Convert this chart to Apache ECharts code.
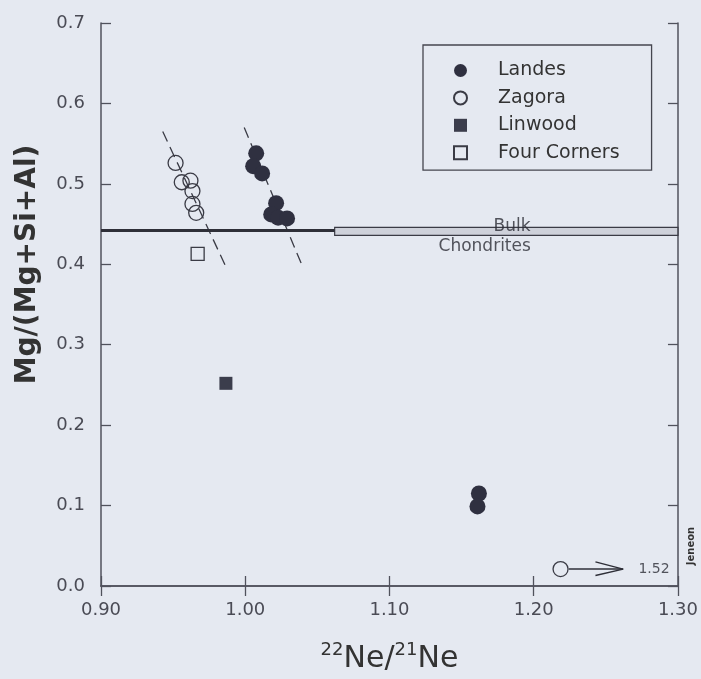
<!DOCTYPE html>
<html><head><meta charset="utf-8">
<script src="https://cdn.jsdelivr.net/npm/echarts@6/dist/echarts.min.js"></script>
<style>html,body{margin:0;padding:0;background:#e5e9f1}#c{width:701px;height:679px}</style>
</head><body><div id="c"></div>
<script>
// ---- data ----
const xRange = [0.9, 1.3];
const yRange = [0, 0.7];
const tickStepX = 0.1;
const tickStepY = 0.1;
const legendNames = ['Landes', 'Zagora', 'Linwood', 'Four Corners'];
const landes = [[1.0076,0.538],[1.0055,0.522],[1.0117,0.513],[1.0214,0.476],[1.018,0.462],[1.0228,0.458],[1.029,0.457],[1.162,0.115],[1.161,0.099]];
const zagora = [[0.9517,0.526],[0.956,0.502],[0.962,0.504],[0.9634,0.491],[0.9634,0.475],[0.966,0.464],[1.2186,0.021]];
const linwood = [[0.9866,0.252]];
const fourCorners = [[0.967,0.413]];
const zagoraTrend = [[0.9428,0.565],[0.9876,0.393]];
const landesTrend = [[0.9993,0.570],[1.0393,0.399]];
const bulkLine = [[0.9,0.442],[1.062,0.442]];
const bulkBand = [[1.062,0.446],[1.3,0.436]];
const arrowShaft = [[1.2243,0.021],[1.262,0.021]];
const arrowHead = [[1.2428,0.030],[1.262,0.021],[1.2428,0.013]];
const annotations = [[1.185,0.4475,'Bulk'],[1.166,0.4225,'Chondrites'],[1.2834,0.021,'1.52']];

const FONT = 'DejaVu Sans';
const INK = '#2f3040';
const AX = '#50525c';

const chart = echarts.init(document.getElementById('c'), null, {renderer:'canvas'});
const axisCommon = {
  type:'value', splitLine:{show:false},
  axisLine:{show:true, lineStyle:{color:AX, width:1.5}},
  axisTick:{show:true, inside:true, length:10, lineStyle:{color:AX, width:1.3}}
};
const option = {
  backgroundColor:'#e5e9f1',
  animation:false,
  grid:{left:101, right:17, top:23, bottom:91},
  xAxis:[
    Object.assign({}, axisCommon, {min:xRange[0], max:xRange[1], interval:tickStepX, position:'bottom',
      axisLabel:{formatter:v=>v.toFixed(2), fontSize:18, color:'#4a4b55', margin:15, fontFamily:FONT},
      name:'{s|22}{n|Ne/}{s|21}{n|Ne}', nameLocation:'middle', nameGap:55,
      nameTextStyle:{rich:{
        s:{fontSize:18, fontFamily:FONT, color:'#333', verticalAlign:'top', lineHeight:36, padding:[0,0,14,0]},
        n:{fontSize:30, fontFamily:FONT, color:'#333', lineHeight:36}
      }}}),
    Object.assign({}, axisCommon, {min:xRange[0], max:xRange[1], interval:tickStepX, position:'top', axisLabel:{show:false}})
  ],
  yAxis:[
    Object.assign({}, axisCommon, {min:yRange[0], max:yRange[1], interval:tickStepY, position:'left',
      axisLabel:{formatter:v=>v.toFixed(1), fontSize:18, color:'#4a4b55', margin:16, fontFamily:FONT},
      name:'Mg/(Mg+Si+Al)', nameLocation:'middle', nameGap:59,
      nameTextStyle:{fontSize:28, fontWeight:'bold', color:'#333', fontFamily:FONT, padding:[0,0,0,80]}}),
    Object.assign({}, axisCommon, {min:yRange[0], max:yRange[1], interval:tickStepY, position:'right', axisLabel:{show:false}})
  ],
  legend:{
    orient:'vertical', left:423, top:45, selectedMode:false,
    data:legendNames,
    itemWidth:13, itemHeight:13, itemGap:8.4,
    padding:[16,32,8,30],
    borderColor:'#45464f', borderWidth:1.3,
    textStyle:{fontSize:19, lineHeight:18, color:'#333', fontFamily:FONT, padding:[0,0,0,26]}
  },
  series:[
    {name:'Landes', type:'scatter', data:landes, symbol:'circle', symbolSize:16, itemStyle:{color:INK, opacity:1}, z:5},
    {name:'Zagora', type:'scatter', data:zagora, symbol:'circle', symbolSize:15, itemStyle:{color:'rgba(0,0,0,0)', borderColor:'#3a3b45', borderWidth:1.3, opacity:1}, z:5},
    {name:'Linwood', type:'scatter', data:linwood, symbol:'rect', symbolSize:13, itemStyle:{color:'#3b3d4c', opacity:1}, z:5},
    {name:'Four Corners', type:'scatter', data:fourCorners, symbol:'rect', symbolSize:13, itemStyle:{color:'rgba(0,0,0,0)', borderColor:'#3a3b45', borderWidth:1.3, opacity:1}, z:5},
    {name:'zTrend', type:'line', data:zagoraTrend, showSymbol:false, symbol:'none', lineStyle:{color:'#3a3b45', width:1.3, type:[11,6]}, z:3},
    {name:'lTrend', type:'line', data:landesTrend, showSymbol:false, symbol:'none', lineStyle:{color:'#3a3b45', width:1.3, type:[11,6]}, z:3},
    {name:'bulk', type:'line', data:bulkLine, showSymbol:false, symbol:'none', lineStyle:{color:'#2e2f38', width:3}, z:3,
      markArea:{silent:true, itemStyle:{color:'rgba(190,194,204,0.6)', borderColor:'#3a3b45', borderWidth:1.2},
        data:[[{coord:bulkBand[0]},{coord:bulkBand[1]}]]}},
    {name:'arrowShaft', type:'line', data:arrowShaft, showSymbol:false, symbol:'none', lineStyle:{color:'#2e2f38', width:1.5}, z:3},
    {name:'arrowHead', type:'line', data:arrowHead, showSymbol:false, symbol:'none', lineStyle:{color:'#2e2f38', width:1.5}, z:3},
    {name:'notes', type:'scatter', data:annotations, symbolSize:0, silent:true, z:6,
      label:{show:true, position:'inside', formatter:p=>'{t|'+p.value[2]+'}'}}
  ],
  graphic:[{type:'text', x:691, y:546, rotation:Math.PI/2,
    style:{text:'Jeneon', font:'bold 10px "DejaVu Sans"', fill:'#333', align:'center', verticalAlign:'middle'}}]
};
// per-label text styling
option.series[9].data = annotations.map((a,i)=>({value:a, label:{rich:{t:{fontFamily:FONT, color:'#2c2d36', fontSize: i===2 ? 14 : 17}}}}));
chart.setOption(option);
</script></body></html>
